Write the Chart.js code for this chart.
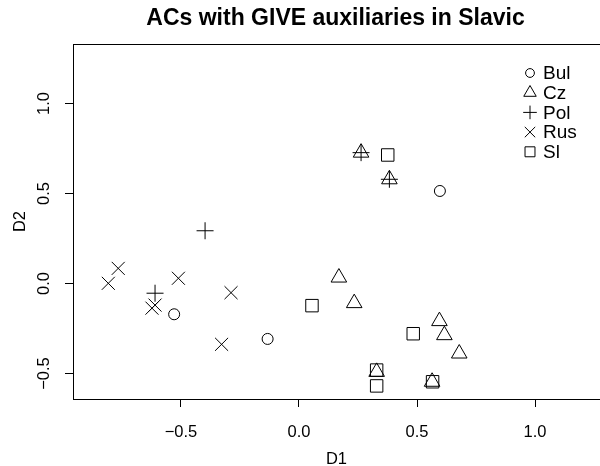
<!DOCTYPE html>
<html>
<head>
<meta charset="utf-8">
<script src="https://cdn.jsdelivr.net/npm/chart.js@4/dist/chart.umd.min.js"></script>
<style>
  html, body { margin: 0; padding: 0; background: #fff; overflow: hidden; }
  canvas { display: block; }
</style>
</head>
<body>
<canvas id="chart" width="600" height="466"></canvas>
<script>
// values (D1 / D2 coordinates per language)
var langs = ["Bul", "Cz", "Pol", "Rus", "Sl"];
var styles = ["circle", "triangle", "cross", "crossRot", "rect"];
var radii = [5.5, 9, 8.5, 9.2, 8.8];

var bulX = [0.597, -0.133, -0.529];
var bulY = [0.514, -0.308, -0.171];
var czX = [0.263, 0.383, 0.169, 0.234, 0.595, 0.616, 0.679, 0.329, 0.564];
var czY = [0.727, 0.579, 0.033, -0.109, -0.209, -0.287, -0.389, -0.491, -0.546];
var polX = [0.263, 0.383, -0.398, -0.610];
var polY = [0.727, 0.579, 0.293, -0.054];
var rusX = [-0.808, -0.766, -0.511, -0.288, -0.328, -0.623, -0.610];
var rusY = [0.001, 0.084, 0.029, -0.051, -0.338, -0.137, -0.120];
var slX = [0.376, 0.055, 0.484, 0.329, 0.329, 0.566];
var slY = [0.714, -0.123, -0.279, -0.481, -0.569, -0.546];

var xTicks = [-0.5, 0, 0.5, 1.0];
var yTicks = [-0.5, 0, 0.5, 1.0];
var xMin = -0.9576, xMax = 1.2754;
var yMin = -0.6417, yMax = 1.3306;

var seriesX = [bulX, czX, polX, rusX, slX];
var seriesY = [bulY, czY, polY, rusY, slY];

function pts(xs, ys) {
  return xs.map(function (x, i) { return { x: x, y: ys[i] }; });
}

function fmt(v) {
  return (v < 0 ? "\u2212" : "") + Math.abs(v).toFixed(1);
}

var datasets = langs.map(function (name, i) {
  return {
    label: name,
    data: pts(seriesX[i], seriesY[i]),
    xAxisID: "x",
    yAxisID: "y",
    pointStyle: styles[i],
    pointRadius: radii[i],
    pointBorderColor: "#000",
    pointBackgroundColor: "rgba(0,0,0,0)",
    pointBorderWidth: 1,
    showLine: false
  };
});

var FONT = "'Liberation Sans', Arial, sans-serif";

// title is centred over the plot region (R style), at x ~335
var titlePlugin = {
  id: "rTitle",
  afterDraw: function (chart) {
    var ctx = chart.ctx, a = chart.chartArea;
    ctx.save();
    ctx.fillStyle = "#000";
    ctx.font = "bold 23px " + FONT;
    ctx.textAlign = "center";
    ctx.textBaseline = "middle";
    ctx.fillText("ACs with GIVE auxiliaries in Slavic", (a.left + a.right - 2) / 2, 19);
    ctx.restore();
  }
};

var legendPlugin = {
  id: "rLegend",
  afterDraw: function (chart) {
    var ctx = chart.ctx;
    ctx.save();
    ctx.font = "19px " + FONT;
    ctx.textBaseline = "middle";
    ctx.textAlign = "left";
    langs.forEach(function (name, i) {
      var y = 73 + i * 19.7;
      ctx.strokeStyle = "#000";
      ctx.fillStyle = "rgba(0,0,0,0)";
      ctx.lineWidth = 1;
      Chart.helpers.drawPoint(ctx, {
        pointStyle: styles[i], radius: radii[i] * 0.8, rotation: 0, borderWidth: 1
      }, 530, y);
      ctx.fillStyle = "#000";
      ctx.fillText(name, 543, y + 1);
    });
    ctx.restore();
  }
};

function noPad(s) {
  s.paddingLeft = 0; s.paddingRight = 0; s.paddingTop = 0; s.paddingBottom = 0;
}

new Chart(document.getElementById("chart"), {
  type: "scatter",
  data: { datasets: datasets },
  plugins: [titlePlugin, legendPlugin],
  options: {
    responsive: false,
    animation: false,
    events: [],
    layout: { autoPadding: false, padding: { top: 44, right: 0, left: 0, bottom: -3 } },
    plugins: { legend: { display: false }, tooltip: { enabled: false }, title: { display: false } },
    scales: {
      x: {
        type: "linear",
        position: "bottom",
        min: xMin,
        max: xMax,
        afterBuildTicks: function (s) { s.ticks = xTicks.map(function (v) { return { value: v }; }); },
        afterFit: function (s) { s.height = 70; noPad(s); },
        grid: { drawOnChartArea: false, drawTicks: true, tickLength: 8, tickColor: "#000", tickWidth: 1, color: "#000" },
        border: { display: true, color: "#000", width: 1 },
        ticks: { color: "#000", font: { family: FONT, size: 16.5 }, padding: 16, maxRotation: 0, callback: fmt },
        title: { display: true, text: "D1", color: "#000", font: { family: FONT, size: 16.5 }, padding: { top: 0, bottom: 0 } }
      },
      xTop: {
        type: "linear",
        position: "top",
        min: xMin,
        max: xMax,
        afterFit: function (s) { s.height = 0; noPad(s); },
        grid: { display: false, drawTicks: false },
        border: { display: true, color: "#000", width: 1 },
        ticks: { display: false }
      },
      y: {
        type: "linear",
        position: "left",
        min: yMin,
        max: yMax,
        afterBuildTicks: function (s) { s.ticks = yTicks.map(function (v) { return { value: v }; }); },
        afterFit: function (s) { s.width = 73; noPad(s); },
        grid: { drawOnChartArea: false, drawTicks: true, tickLength: 8, tickColor: "#000", tickWidth: 1, color: "#000" },
        border: { display: true, color: "#000", width: 1 },
        ticks: { color: "#000", font: { family: FONT, size: 16.5 }, padding: 4, minRotation: 90, maxRotation: 90, crossAlign: "center", callback: fmt },
        title: { display: true, text: "D2", color: "#000", font: { family: FONT, size: 16.5 }, padding: { top: 11, bottom: 0 } }
      }
    }
  }
});
</script>
</body>
</html>
